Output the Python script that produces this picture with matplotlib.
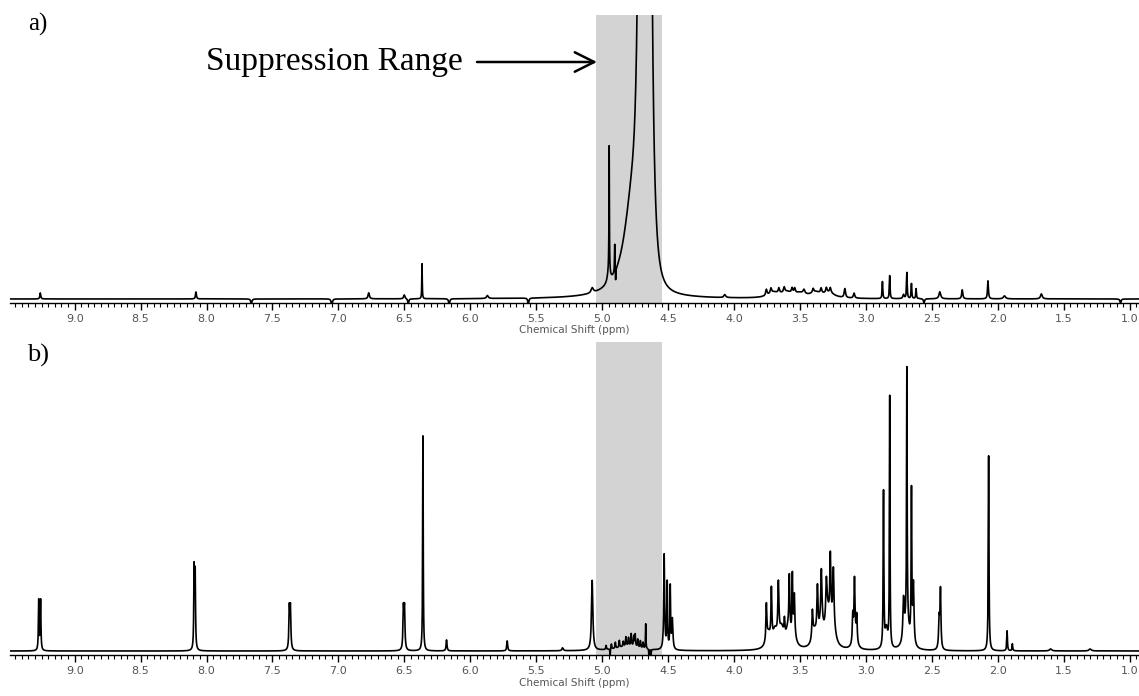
import numpy as np
import matplotlib.pyplot as plt
from matplotlib.ticker import MultipleLocator, FormatStrFormatter

# -----------------------------
# Peak lists (ppm, height, half-width in ppm)
# heights are in "pixel" units above the baseline
# -----------------------------
# a) residual water signal (steep main line + broad left shoulder)
water_pos = [4.675]
water_hgt = [5400]
water_wid = [0.03]

pos_a = [4.77, 4.947, 4.95, 4.905, 4.898, 5.075, 6.366, 9.26, 8.08, 6.77, 6.50, 5.87,
         3.755, 3.72, 3.66, 3.62, 3.56, 3.54, 3.47, 3.40, 3.34, 3.30, 3.27, 3.16, 3.09,
         3.70, 3.60, 3.50, 3.38, 3.28,
         2.875, 2.82, 2.715, 2.69, 2.655, 2.62, 2.44, 2.27, 2.075, 1.95, 1.67, 4.07]
hgt_a = [95, 125, 12, 28, -12, 5, 35, 6, 7, 6, 4, 3,
         6, 5, 5, 5, 5, 5, 4, 4, 5, 5, 5, 9, 5,
         5, 5, 4, 5, 5,
         17, 23, 4, 26, 15, 10, 7, 9, 18, 3, 5, 3]
wid_a = [0.08, 0.0018, 0.012, 0.002, 0.0015, 0.01, 0.002, 0.004, 0.004, 0.006, 0.006, 0.008,
         0.006, 0.006, 0.006, 0.006, 0.006, 0.006, 0.008, 0.006, 0.006, 0.006, 0.006, 0.006, 0.006,
         0.05, 0.05, 0.05, 0.05, 0.05,
         0.003, 0.003, 0.006, 0.003, 0.003, 0.003, 0.008, 0.005, 0.004, 0.01, 0.008, 0.008]
# baseline dips (phase artefacts) in a)
dip_pos = [7.66, 7.05, 6.47, 6.16, 5.56, 2.56, 1.07]
dip_hgt = [-5, -7, -5, -6, -6, -4, -4]

# b) spectrum with the suppression window applied
pos_b = [9.272, 9.258, 8.094, 8.086, 7.372, 7.364, 6.507, 6.499, 6.359, 6.18, 5.72, 5.30,
         5.076,
         4.97, 4.93, 4.90, 4.87, 4.84, 4.82, 4.80, 4.78, 4.76, 4.75, 4.73, 4.71, 4.69, 4.67,
         4.94, 4.645, 4.63, 4.80,
         4.53, 4.507, 4.484, 4.468,
         3.755, 3.717, 3.664, 3.618, 3.581, 3.558, 3.543,
         3.74, 3.69, 3.64, 3.59, 3.55,
         3.406, 3.368, 3.338, 3.30, 3.27, 3.247,
         3.39, 3.34, 3.29, 3.25,
         3.10, 3.087, 3.07, 3.085,
         2.867, 2.82, 2.845, 2.715, 2.69, 2.655, 2.64, 2.69,
         2.445, 2.435, 2.07, 1.93, 1.89, 1.60, 1.30]
hgt_b = [50, 50, 80, 75, 40, 40, 40, 40, 215, 11, 10, 3,
         70,
         4, 5, 6, 7, 5, 9, 8, 12, 10, 12, 8, 7, 6, 25,
         -9, -10, -9, 5,
         95, 66, 62, 30,
         36, 50, 54, 16, 54, 56, 38,
         14, 16, 18, 17, 14,
         28, 48, 50, 40, 68, 52,
         14, 22, 28, 22,
         26, 54, 26, 16,
         155, 250, 20, 40, 250, 150, 60, 30,
         30, 58, 195, 20, 7, 2, 2]
wid_b = [0.003, 0.003, 0.003, 0.003, 0.004, 0.004, 0.004, 0.004, 0.0025, 0.004, 0.004, 0.006,
         0.006,
         0.003, 0.003, 0.003, 0.003, 0.003, 0.003, 0.003, 0.003, 0.003, 0.003, 0.003, 0.003, 0.003, 0.002,
         0.0015, 0.0015, 0.0015, 0.1,
         0.004, 0.003, 0.003, 0.005,
         0.004, 0.004, 0.005, 0.004, 0.004, 0.003, 0.004,
         0.02, 0.02, 0.02, 0.02, 0.02,
         0.005, 0.005, 0.005, 0.006, 0.005, 0.005,
         0.02, 0.02, 0.02, 0.02,
         0.004, 0.004, 0.004, 0.015,
         0.003, 0.0025, 0.012, 0.006, 0.0025, 0.003, 0.005, 0.02,
         0.005, 0.004, 0.003, 0.003, 0.003, 0.01, 0.01]

supp_lo, supp_hi = 4.545, 5.045
xmax, xmin = 9.49, 0.93


def spectrum(ppm, pos, hgt, wid, power=1):
    y = np.zeros_like(ppm)
    for p, h, w in zip(pos, hgt, wid):
        y += h / (1 + ((ppm - p) / w) ** 2) ** power
    return y


ppm = np.arange(xmin, xmax, 0.0005)
y_a = (spectrum(ppm, water_pos, water_hgt, water_wid, power=2)
       + spectrum(ppm, pos_a, hgt_a, wid_a)
       + spectrum(ppm, dip_pos, dip_hgt, [0.005] * len(dip_pos)))
y_b = spectrum(ppm, pos_b, hgt_b, wid_b)

# -----------------------------
# Figure
# -----------------------------
fig = plt.figure(figsize=(11.39, 6.96), dpi=100)
W, H = 1139, 696
ax_a = fig.add_axes([10 / W, 1 - 303 / H, 1 - 10 / W, 288 / H])
ax_b = fig.add_axes([10 / W, 1 - 655 / H, 1 - 10 / W, 313 / H])


def style(ax, ylim):
    ax.set_xlim(xmax, xmin)
    ax.set_ylim(*ylim)
    for s in ["top", "left", "right"]:
        ax.spines[s].set_visible(False)
    ax.spines["bottom"].set_linewidth(1.0)
    ax.set_yticks([])
    ax.xaxis.set_major_locator(MultipleLocator(0.5))
    ax.xaxis.set_minor_locator(MultipleLocator(0.05))
    ax.xaxis.set_major_formatter(FormatStrFormatter("%.1f"))
    ax.tick_params(axis="x", which="major", length=5, width=1, pad=3,
                   labelsize=8, labelcolor="#555555")
    ax.tick_params(axis="x", which="minor", length=3, width=0.8)
    ax.set_xlabel("Chemical Shift (ppm)", fontsize=7.5, color="#555555", labelpad=1)
    ax.axvspan(supp_lo, supp_hi, color="#d3d3d3", zorder=0, lw=0)


style(ax_a, (-4, 284))
style(ax_b, (-4, 309))

ax_a.plot(ppm, y_a, color="black", lw=1.2)
ax_b.plot(ppm, y_b, color="black", lw=1.2)

serif = ["Liberation Serif", "DejaVu Serif"]
fig.text(28 / W, 1 - 31 / H, "a)", fontsize=18, family=serif, va="baseline")
fig.text(27 / W, 1 - 362 / H, "b)", fontsize=19, family=serif, va="baseline")
fig.text(206 / W, 1 - 70 / H, "Suppression Range", fontsize=24, family=serif, va="baseline")
fig.add_artist(plt.Annotation("", xy=(597 / W, 1 - 62 / H), xytext=(477 / W, 1 - 62 / H),
                              xycoords="figure fraction", textcoords="figure fraction",
                              arrowprops=dict(arrowstyle="->,head_length=0.7,head_width=0.35",
                                              lw=1.8, color="black", mutation_scale=20,
                                              shrinkA=0, shrinkB=0)))

fig.savefig("out.png", dpi=100)
